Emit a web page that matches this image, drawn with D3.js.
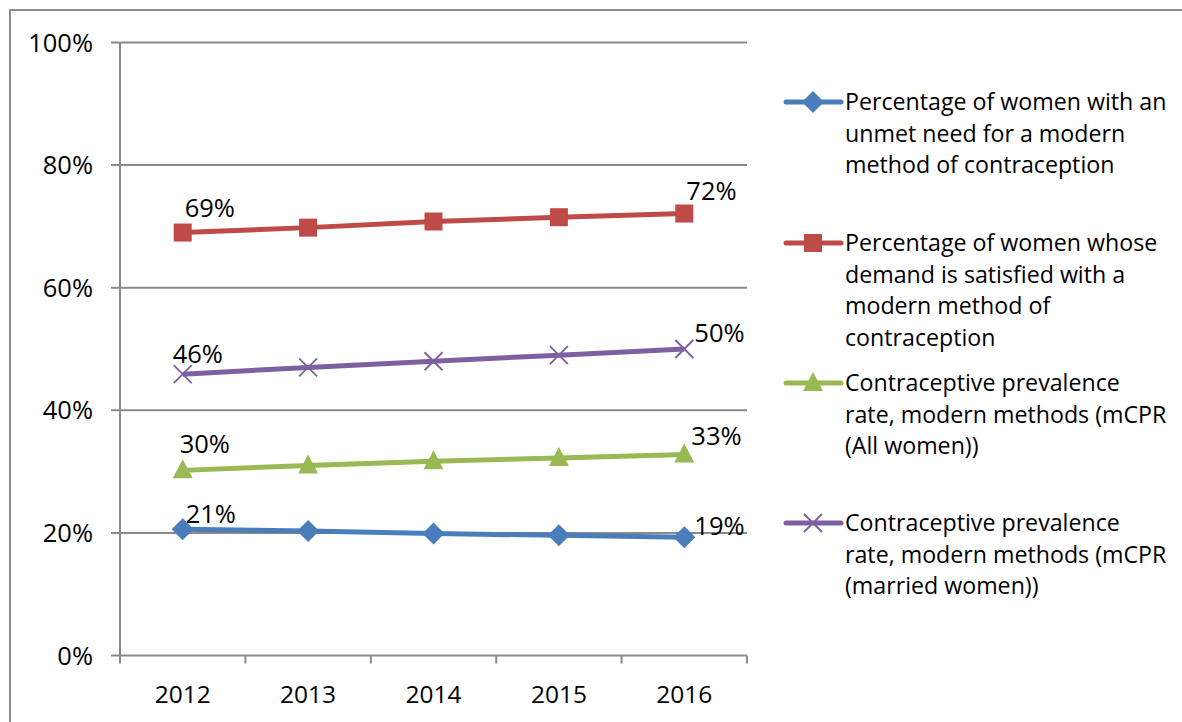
<!DOCTYPE html>
<html><head><meta charset="utf-8">
<script src="https://cdn.jsdelivr.net/npm/d3@7"></script>
<style>body{margin:0;background:#fff}svg{display:block}text{font-family:"Open Sans",sans-serif;fill:#000}</style>
</head><body><div id="chart"></div>
<script>
const years = ["2012","2013","2014","2015","2016"];
const unmetNeed = [20.6, 20.3, 19.9, 19.6, 19.3];
const demandSatisfied = [69.0, 69.8, 70.8, 71.5, 72.1];
const mcprAll = [30.2, 31.0, 31.7, 32.2, 32.8];
const mcprMarried = [45.9, 47.0, 48.0, 49.0, 50.0];
const yTicks = [0, 20, 40, 60, 80, 100];
const seriesNames = [
  ["Percentage of women with an","unmet need for a modern","method of contraception"],
  ["Percentage of women whose","demand is satisfied with a","modern method of","contraception"],
  ["Contraceptive prevalence","rate, modern methods (mCPR","(All women))"],
  ["Contraceptive prevalence","rate, modern methods (mCPR","(married women))"]
];
const labelText = [["21%","19%"],["69%","72%"],["30%","33%"],["46%","50%"]];

const W = 1182, H = 722;
const svg = d3.select("#chart").append("svg").attr("width", W).attr("height", H);
svg.append("rect").attr("x",10).attr("y",10).attr("width",W).attr("height",H)
  .attr("fill","none").attr("stroke","#8c8c8c").attr("stroke-width",2);

const x = d3.scaleBand().domain(years).range([120, 747]);
const y = d3.scaleLinear().domain([0,100]).range([655.5, 42.5]);
const grid = "#8a8a8a";

svg.append("g").selectAll("line").data(yTicks).join("line")
  .attr("x1",111).attr("x2",747).attr("y1",d=>y(d)).attr("y2",d=>y(d))
  .attr("stroke",grid).attr("stroke-width",2);
svg.append("line").attr("x1",120).attr("x2",120).attr("y1",y(100)).attr("y2",y(0)).attr("stroke",grid).attr("stroke-width",2);
svg.append("g").selectAll("text").data(yTicks).join("text")
  .attr("x",93).attr("y",d=>y(d)).attr("dy","0.36em").attr("text-anchor","end")
  .attr("font-size",25.5).text(d=>d+"%");
const xt = years.map(d=>x(d)).concat([x.range()[1]]);
svg.append("g").selectAll("line").data(xt).join("line")
  .attr("x1",d=>d).attr("x2",d=>d).attr("y1",y(0)).attr("y2",y(0)+8)
  .attr("stroke",grid).attr("stroke-width",2);
svg.append("g").selectAll("text").data(years).join("text")
  .attr("x",d=>x(d)+x.bandwidth()/2).attr("y",703).attr("text-anchor","middle")
  .attr("font-size",24.5).text(d=>d);

const series = [
  {vals: unmetNeed, color:"#4a7ebb", marker:"diamond"},
  {vals: demandSatisfied, color:"#be4b48", marker:"square"},
  {vals: mcprAll, color:"#98b954", marker:"triangle"},
  {vals: mcprMarried, color:"#7d60a0", marker:"x"}
];
const cx = i => x(years[i]) + x.bandwidth()/2;

function drawMarker(g, type, color, px, py){
  if(type==="diamond"){
    g.append("path").attr("d",`M${px},${py-11}L${px+11},${py}L${px},${py+11}L${px-11},${py}Z`).attr("fill",color);
  } else if(type==="square"){
    g.append("rect").attr("x",px-9).attr("y",py-9).attr("width",18).attr("height",18).attr("fill",color);
  } else if(type==="triangle"){
    g.append("path").attr("d",`M${px},${py-11}L${px+10},${py+8}L${px-10},${py+8}Z`).attr("fill",color);
  } else {
    g.append("path").attr("d",`M${px-9},${py-9}L${px+9},${py+9}M${px+9},${py-9}L${px-9},${py+9}`).attr("stroke",color).attr("stroke-width",1.8);
  }
}

const line = d3.line().x((d,i)=>cx(i)).y(d=>y(d));
series.forEach(s=>{
  const g = svg.append("g");
  g.append("path").attr("d",line(s.vals)).attr("fill","none").attr("stroke",s.color).attr("stroke-width",5).attr("stroke-linejoin","round");
  s.vals.forEach((v,i)=>drawMarker(g, s.marker, s.color, cx(i), y(v)));
});

const lblOff = [[[3,-6],[10,-2]],[[2,-16],[2,-14]],[[-3,-17],[7,-9]],[[-10,-11],[10,-7]]];
series.forEach((s,k)=>{
  [0,4].forEach((i,j)=>{
    svg.append("text").attr("x",cx(i)+lblOff[k][j][0]).attr("y",y(s.vals[i])+lblOff[k][j][1])
      .attr("font-size",25.5).text(labelText[k][j]);
  });
});

const legY = [102, 243, 383, 523];
series.forEach((s,k)=>{
  const g = svg.append("g");
  g.append("line").attr("x1",786).attr("x2",841).attr("y1",legY[k]).attr("y2",legY[k]).attr("stroke",s.color).attr("stroke-width",5).attr("stroke-linecap","round");
  drawMarker(g, s.marker, s.color, 813, legY[k]);
  seriesNames[k].forEach((t,j)=>{
    g.append("text").attr("x",845).attr("y",legY[k]+j*31.5).attr("dy","0.36em").attr("font-size",23.2).text(t);
  });
});
</script></body></html>
